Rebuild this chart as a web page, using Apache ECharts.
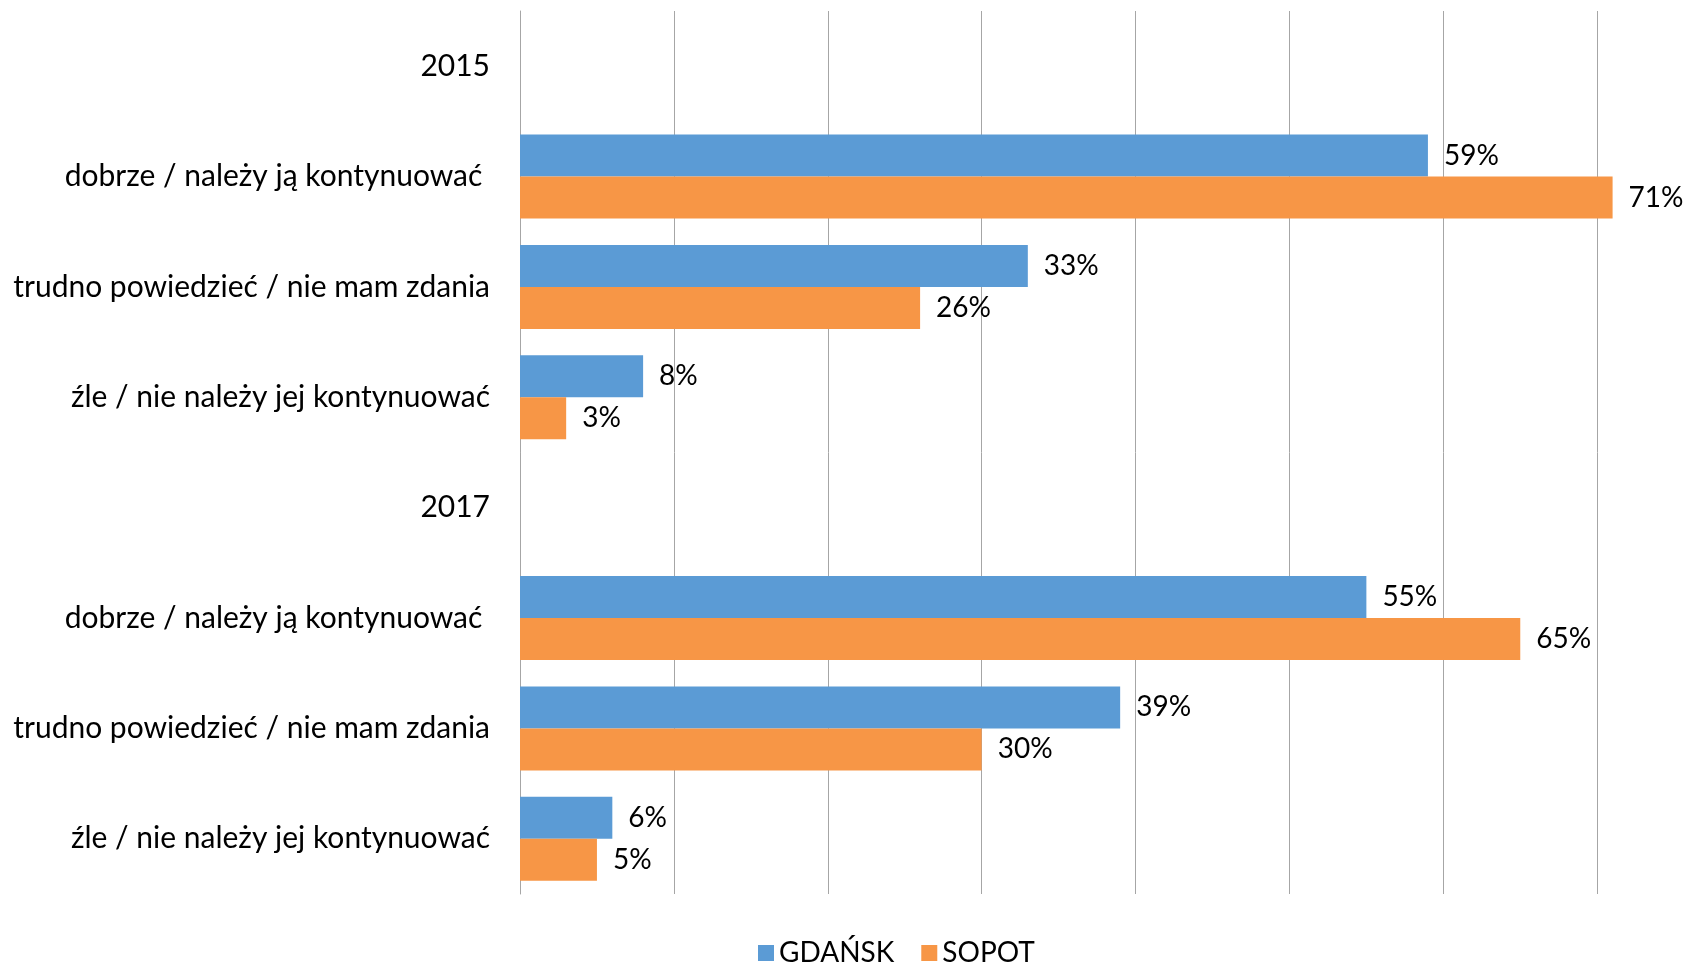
<!DOCTYPE html>
<html><head><meta charset="utf-8">
<script src="https://cdn.jsdelivr.net/npm/echarts@6/dist/echarts.min.js"></script>
<style>html,body{margin:0;padding:0;background:#fff}#c{width:1688px;height:964px}</style>
</head><body><div id="c"></div>
<script>
const categories = [
  '2015',
  'dobrze / należy ją kontynuować ',
  'trudno powiedzieć / nie mam zdania',
  'źle / nie należy jej kontynuować',
  '2017',
  'dobrze / należy ją kontynuować ',
  'trudno powiedzieć / nie mam zdania',
  'źle / nie należy jej kontynuować'
];
const seriesNames = ['GDAŃSK', 'SOPOT'];
const gdansk = [null, 59, 33, 8, null, 55, 39, 6];
const sopot  = [null, 71, 26, 3, null, 65, 30, 5];

const FONT = 'Lato';
const GRID = '#a6a6a6';
const chart = echarts.init(document.getElementById('c'));
chart.setOption({
  animation: false,
  textStyle: {fontFamily: FONT},
  grid: {left: 520, top: 11, right: 0, height: 883, containLabel: false},
  xAxis: {
    type: 'value', min: 0, max: 75.9, interval: 10,
    axisLabel: {show: false}, axisTick: {show: false}, axisLine: {show: false},
    splitLine: {show: true, lineStyle: {color: [GRID, GRID, GRID, GRID, GRID, GRID, GRID, GRID, 'rgba(0,0,0,0)'], width: 1}}
  },
  yAxis: {
    type: 'category', data: categories, inverse: true,
    axisTick: {show: false},
    axisLine: {show: true, lineStyle: {color: GRID}},
    axisLabel: {color: '#000', fontSize: 30, fontFamily: FONT, margin: 30}
  },
  legend: {
    top: 934, left: 753, itemWidth: 16, itemHeight: 16, itemGap: 27,
    icon: 'rect',
    textStyle: {color: '#000', fontSize: 28, fontFamily: FONT},
    data: seriesNames
  },
  series: [
    {name: seriesNames[0], type: 'bar', data: gdansk, barGap: '0%', barCategoryGap: '24%',
     itemStyle: {color: '#5b9bd5'},
     label: {show: true, position: 'right', distance: 16, color: '#000', fontSize: 28, fontFamily: FONT, formatter: '{c}%'}},
    {name: seriesNames[1], type: 'bar', data: sopot, barGap: '0%', barCategoryGap: '24%',
     itemStyle: {color: '#f79646'},
     label: {show: true, position: 'right', distance: 16, color: '#000', fontSize: 28, fontFamily: FONT, formatter: '{c}%'}}
  ]
});
</script></body></html>
